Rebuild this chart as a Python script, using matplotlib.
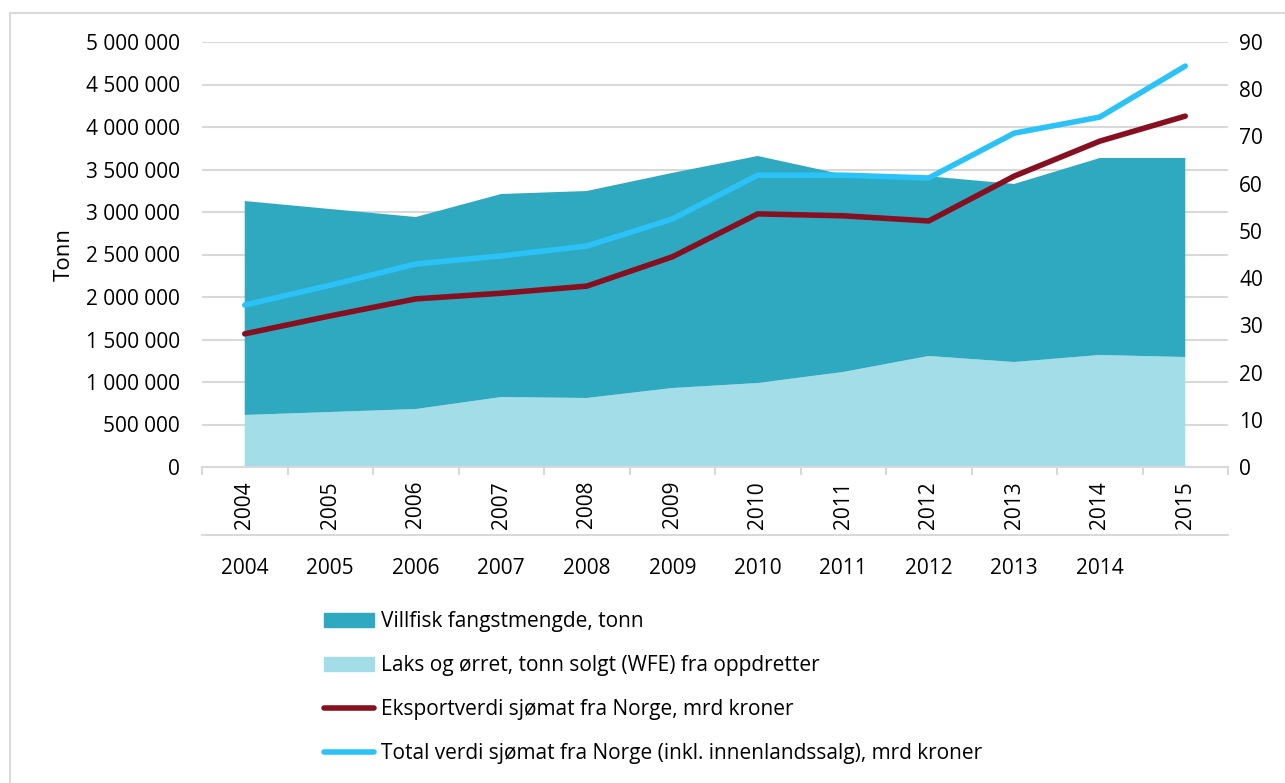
import numpy as np
import matplotlib
matplotlib.use('Agg')
import matplotlib.pyplot as plt
from matplotlib.patches import Patch, Rectangle
from matplotlib.lines import Line2D
import matplotlib.transforms as mtransforms

plt.rcParams['font.family'] = ['Open Sans', 'DejaVu Sans']

# data
years = ['2004', '2005', '2006', '2007', '2008', '2009', '2010', '2011', '2012', '2013', '2014', '2015']
laks = [612000, 647000, 682000, 823000, 812000, 929000, 988000, 1118000, 1306000, 1235000, 1318000, 1294000]
villfisk = [2517000, 2388000, 2259000, 2389000, 2435000, 2531000, 2671000, 2322000, 2114000, 2095000, 2317000, 2341000]
eksport = [28.2, 32.0, 35.6, 36.8, 38.3, 44.5, 53.6, 53.2, 52.1, 61.6, 69.0, 74.3]
total = [34.3, 38.5, 43.0, 44.7, 46.8, 52.5, 61.8, 61.8, 61.2, 70.7, 74.1, 84.9]

c_villfisk = '#2EA9C0'
c_laks = '#A2DDE8'
c_eksport = '#86101F'
c_total = '#2BC3F7'
grid_c = '#D9D9D9'
fs = 15

fig = plt.figure(figsize=(12.85, 7.83), dpi=100)
ax = fig.add_axes([202/1285, 316/783, 1026/1285, 425/783])
x = np.arange(len(years))

ax.stackplot(x, laks, villfisk, colors=[c_laks, c_villfisk], linewidth=0)
ax.set_xlim(-0.5, len(years) - 0.5)
ax.set_ylim(0, 5000000)
yt = np.arange(0, 5000001, 500000)
ax.set_yticks(yt)
ax.set_yticklabels([f'{v:,}'.replace(',', ' ') for v in yt], fontsize=fs)
ax.grid(axis='y', color=grid_c, linewidth=1.5)
ax.set_axisbelow(True)
ax.tick_params(axis='y', length=0, pad=16)
ax.set_ylabel('Tonn', fontsize=fs + 1, labelpad=8)

ax.set_xticks(np.arange(-0.5, len(years), 1))
ax.set_xticklabels([])
ax.tick_params(axis='x', which='major', length=6, color=grid_c, width=1.5)
ax.set_xticks(x, minor=True)
ax.set_xticklabels(years, minor=True, rotation=90, fontsize=fs)
ax.tick_params(axis='x', which='minor', length=0, pad=10)

for s in ['top', 'left', 'right']:
    ax.spines[s].set_visible(False)
ax.spines['bottom'].set_color(grid_c)
ax.spines['bottom'].set_linewidth(1.5)

# second row of category labels (as in the original)
trans = mtransforms.blended_transform_factory(ax.transData, ax.transAxes)
ax.plot([-0.5, len(years) - 0.5], [-0.16, -0.16], transform=trans, clip_on=False,
        color=grid_c, linewidth=1.5)
for i, y in enumerate(years[:-1]):
    ax.text(i, -0.24, y, transform=trans, ha='center', va='center', fontsize=fs)

ax2 = ax.twinx()
ax2.plot(x, eksport, color=c_eksport, linewidth=4, solid_capstyle='round')
ax2.plot(x, total, color=c_total, linewidth=4, solid_capstyle='round')
ax2.set_ylim(0, 90)
ax2.set_yticks(np.arange(0, 91, 10))
ax2.tick_params(axis='y', length=0, pad=8, labelsize=fs)
for s in ax2.spines.values():
    s.set_visible(False)

handles = [Patch(color=c_villfisk), Patch(color=c_laks),
           Line2D([], [], color=c_eksport, linewidth=4, solid_capstyle='round'),
           Line2D([], [], color=c_total, linewidth=4, solid_capstyle='round')]
labels = ['Villfisk fangstmengde, tonn',
          'Laks og ørret, tonn solgt (WFE) fra oppdretter',
          'Eksportverdi sjømat fra Norge, mrd kroner',
          'Total verdi sjømat fra Norge (inkl. innenlandssalg), mrd kroner']
fig.legend(handles, labels, loc='upper left', bbox_to_anchor=(314/1285, 1 - 601/783),
           frameon=False, fontsize=fs, handlelength=2.4, handletextpad=0.3,
           labelspacing=1.1, borderpad=0)

fig.patches.append(Rectangle((10/1285, -0.1), 1.2, 1 - 13/783 + 0.1, transform=fig.transFigure,
                             fill=False, edgecolor=grid_c, linewidth=1.5))

fig.savefig('out.png', dpi=100)
